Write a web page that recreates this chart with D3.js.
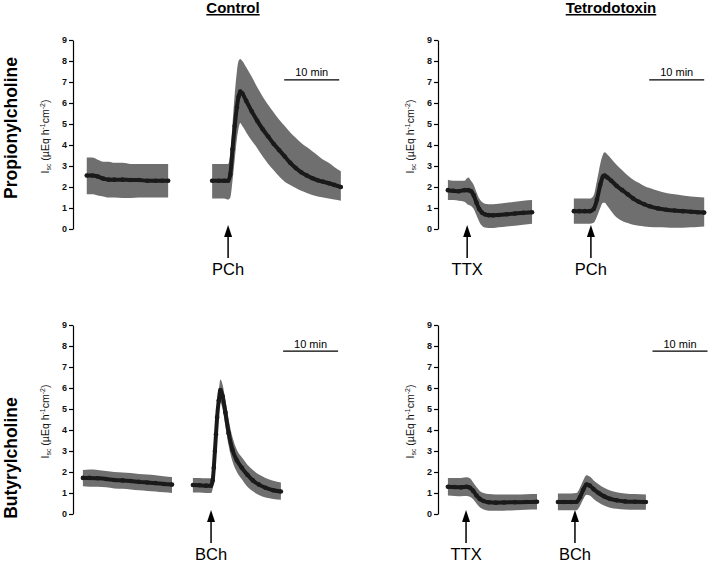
<!DOCTYPE html>
<html>
<head>
<meta charset="utf-8">
<script src="https://cdn.jsdelivr.net/npm/d3@7"></script>
<style>
  body { margin: 0; background: #fff; }
  svg { display: block; font-family: Arial, "Liberation Sans", sans-serif; }
</style>
</head>
<body>
<svg id="chart" width="709" height="562"></svg>
<script>
// rows: [minutes, mean, lower, upper]  (Isc, µEq h-1 cm-2)
const pchControlBaseline = [
  [2.5, 2.55, 1.65, 3.4], [3.5, 2.55, 1.65, 3.4], [4.5, 2.5, 1.6, 3.3], [5.5, 2.4, 1.55, 3.2],
  [6.5, 2.35, 1.5, 3.2], [7.5, 2.35, 1.5, 3.15], [9, 2.35, 1.48, 3.15], [10.5, 2.33, 1.48, 3.1],
  [12, 2.33, 1.5, 3.1], [13.5, 2.3, 1.5, 3.1], [15, 2.3, 1.5, 3.1], [16.2, 2.3, 1.5, 3.1], [17.3, 2.3, 1.5, 3.1]
];
const pchControlResponse = [
  [25.3, 2.3, 1.45, 3.1], [26.5, 2.3, 1.45, 3.1], [27.5, 2.3, 1.45, 3.1], [28.2, 2.3, 1.4, 3.1],
  [28.6, 2.6, 1.5, 3.6], [29.0, 3.8, 2.3, 5.0], [29.4, 4.9, 3.3, 6.4], [29.8, 5.8, 4.3, 7.5],
  [30.1, 6.3, 4.8, 8.0], [30.4, 6.55, 5.05, 8.1], [30.8, 6.45, 4.9, 8.0], [31.5, 6.1, 4.6, 7.7],
  [32.5, 5.6, 4.2, 7.25], [33.5, 5.15, 3.85, 6.75], [34.5, 4.75, 3.45, 6.3], [35.5, 4.4, 3.1, 5.9],
  [36.5, 4.05, 2.8, 5.55], [37.5, 3.75, 2.5, 5.2], [38.5, 3.45, 2.25, 4.9], [39.5, 3.15, 2.1, 4.6],
  [40.5, 2.9, 1.95, 4.35], [41.5, 2.7, 1.82, 4.1], [42.5, 2.55, 1.72, 3.9], [43.5, 2.42, 1.62, 3.7],
  [44.5, 2.32, 1.55, 3.5], [45.5, 2.25, 1.5, 3.3], [46.5, 2.18, 1.45, 3.15], [47.5, 2.1, 1.4, 2.95],
  [48.7, 2.0, 1.35, 2.75]
];
const pchTtxBaseline = [
  [1.8, 1.85, 1.38, 2.35], [2.8, 1.82, 1.38, 2.3], [3.8, 1.8, 1.35, 2.3], [4.8, 1.85, 1.3, 2.3],
  [5.5, 1.85, 1.15, 2.45], [6.0, 1.8, 1.1, 2.3], [6.5, 1.6, 0.95, 2.1], [7.0, 1.25, 0.65, 1.75],
  [7.5, 0.95, 0.35, 1.45], [8.0, 0.78, 0.15, 1.28], [8.5, 0.7, 0.07, 1.2], [9.2, 0.66, 0.05, 1.18],
  [10, 0.65, 0.05, 1.18], [11, 0.67, 0.08, 1.2], [12.5, 0.7, 0.12, 1.25], [14, 0.74, 0.15, 1.3],
  [15.5, 0.77, 0.2, 1.35], [17.1, 0.8, 0.25, 1.38]
];
const pchTtxResponse = [
  [24.7, 0.85, 0.25, 1.45], [25.7, 0.85, 0.25, 1.45], [26.7, 0.85, 0.25, 1.45], [27.6, 0.85, 0.25, 1.45],
  [28.3, 0.95, 0.3, 1.6], [28.9, 1.4, 0.6, 2.3], [29.5, 2.1, 1.0, 3.1], [30.0, 2.5, 1.25, 3.55],
  [30.3, 2.55, 1.25, 3.65], [30.8, 2.45, 1.1, 3.55], [31.5, 2.3, 0.85, 3.35], [32.5, 2.05, 0.55, 3.05],
  [33.5, 1.85, 0.38, 2.8], [34.5, 1.65, 0.28, 2.55], [35.5, 1.45, 0.2, 2.35], [36.5, 1.3, 0.15, 2.2],
  [37.5, 1.18, 0.12, 2.05], [38.5, 1.08, 0.1, 1.95], [40, 0.98, 0.08, 1.82], [41.5, 0.92, 0.07, 1.72],
  [43, 0.88, 0.06, 1.65], [44.5, 0.85, 0.06, 1.6], [46, 0.82, 0.08, 1.55], [47.2, 0.8, 0.1, 1.52],
  [48.4, 0.78, 0.12, 1.5]
];
const bchControlBaseline = [
  [1.8, 1.72, 1.32, 2.1], [3, 1.72, 1.3, 2.12], [4.5, 1.7, 1.3, 2.1], [6, 1.67, 1.27, 2.05],
  [7.5, 1.62, 1.22, 2.0], [9, 1.6, 1.2, 1.98], [10.5, 1.57, 1.17, 1.95], [12, 1.53, 1.13, 1.9],
  [13.5, 1.5, 1.1, 1.88], [15, 1.47, 1.07, 1.85], [16.5, 1.43, 1.03, 1.8], [18, 1.4, 1.0, 1.76]
];
const bchControlResponse = [
  [21.8, 1.38, 1.02, 1.72], [23, 1.37, 1.02, 1.72], [24.2, 1.35, 1.0, 1.7], [25.1, 1.35, 1.0, 1.7],
  [25.4, 1.6, 1.2, 1.9], [25.6, 2.2, 1.8, 2.5], [25.8, 3.0, 2.6, 3.3], [26.0, 3.8, 3.4, 4.2],
  [26.2, 4.6, 4.2, 5.0], [26.5, 5.4, 5.0, 5.8], [26.8, 5.9, 5.3, 6.4], [27.2, 5.6, 5.0, 6.15],
  [27.7, 4.85, 4.2, 5.45], [28.3, 3.85, 3.25, 4.5], [29.0, 3.05, 2.5, 3.65], [29.8, 2.55, 2.0, 3.05],
  [30.7, 2.2, 1.65, 2.7], [31.7, 1.87, 1.3, 2.35], [32.7, 1.6, 1.08, 2.1], [33.8, 1.4, 0.9, 1.88],
  [35, 1.25, 0.78, 1.72], [36.4, 1.13, 0.72, 1.58], [37.8, 1.07, 0.68, 1.5]
];
const bchTtxBaseline = [
  [1.8, 1.3, 0.88, 1.72], [3, 1.28, 0.86, 1.72], [4.2, 1.27, 0.85, 1.72], [5.2, 1.3, 0.86, 1.75],
  [5.8, 1.25, 0.82, 1.7], [6.4, 1.1, 0.7, 1.5], [7.0, 0.88, 0.5, 1.28], [7.6, 0.72, 0.32, 1.1],
  [8.3, 0.62, 0.22, 1.0], [9.2, 0.56, 0.16, 0.95], [10.5, 0.54, 0.15, 0.93], [12, 0.55, 0.16, 0.93],
  [14, 0.56, 0.18, 0.93], [16, 0.57, 0.2, 0.94], [18, 0.58, 0.21, 0.95]
];
const bchTtxResponse = [
  [21.8, 0.57, 0.18, 0.98], [23, 0.57, 0.18, 0.98], [24.2, 0.57, 0.18, 0.98], [25.2, 0.58, 0.18, 1.0],
  [25.8, 0.8, 0.38, 1.25], [26.4, 1.15, 0.7, 1.6], [27.0, 1.4, 0.92, 1.85], [27.6, 1.35, 0.88, 1.78],
  [28.3, 1.18, 0.72, 1.6], [29.2, 1.0, 0.55, 1.42], [30.2, 0.84, 0.4, 1.25], [31.3, 0.72, 0.3, 1.12],
  [32.5, 0.65, 0.25, 1.04], [34, 0.6, 0.22, 0.98], [35.8, 0.58, 0.2, 0.95], [37.8, 0.57, 0.2, 0.93]
];

// drug additions, minutes
const pchControlEvents = [["PCh", 28.2]];
const pchTtxEvents = [["TTX", 5.3], ["PCh", 27.8]];
const bchControlEvents = [["BCh", 25.1]];
const bchTtxEvents = [["TTX", 5.1], ["BCh", 24.9]];

const yTicks = [0, 1, 2, 3, 4, 5, 6, 7, 8, 9];
const columnTitles = ["Control", "Tetrodotoxin"];
const rowTitles = ["Propionylcholine", "Butyrylcholine"];
const scaleBarLabel = "10 min";

const settings = {
  minutes: 50,
  pxPerMinute: 5.5,
  band: "#6f6f6f",
  trace: "#1a1a1a",
  dotRadius: 2.3,
  traceWidth: 4,
};

const panels = [
  { left: 73, top: 40, bottom: 229, segments: [pchControlBaseline, pchControlResponse], events: pchControlEvents, bar: [38.4, 48.4], barY: 7.1 },
  { left: 438, top: 40, bottom: 229, segments: [pchTtxBaseline, pchTtxResponse], events: pchTtxEvents, bar: [38.4, 48.4], barY: 7.1 },
  { left: 73, top: 325, bottom: 514, segments: [bchControlBaseline, bchControlResponse], events: bchControlEvents, bar: [38.2, 48.2], barY: 7.76 },
  { left: 438, top: 325, bottom: 514, segments: [bchTtxBaseline, bchTtxResponse], events: bchTtxEvents, bar: [39, 49], barY: 7.76 },
];

const svg = d3.select("#chart");

function drawPanel(p) {
  const x = d3.scaleLinear()
    .domain([0, settings.minutes])
    .range([p.left, p.left + settings.minutes * settings.pxPerMinute]);
  const y = d3.scaleLinear().domain([0, 9]).range([p.bottom, p.top]);

  const g = svg.append("g");

  const area = d3.area()
    .x(d => x(d[0]))
    .y0(d => y(d[2]))
    .y1(d => y(d[3]))
    .curve(d3.curveMonotoneX);

  const line = d3.line()
    .x(d => x(d[0]))
    .y(d => y(d[1]))
    .curve(d3.curveMonotoneX);

  g.selectAll("path.band")
    .data(p.segments)
    .join("path")
    .attr("class", "band")
    .attr("d", area)
    .attr("fill", settings.band);

  g.selectAll("path.trace")
    .data(p.segments)
    .join("path")
    .attr("class", "trace")
    .attr("d", line)
    .attr("fill", "none")
    .attr("stroke", settings.trace)
    .attr("stroke-width", settings.traceWidth);

  g.selectAll("circle")
    .data(p.segments.flat())
    .join("circle")
    .attr("cx", d => x(d[0]))
    .attr("cy", d => y(d[1]))
    .attr("r", settings.dotRadius)
    .attr("fill", settings.trace);

  // y axis
  const axis = g.append("g")
    .attr("transform", `translate(${p.left},0)`)
    .call(d3.axisLeft(y).tickValues(yTicks).tickSize(4).tickSizeOuter(0).tickPadding(2));
  axis.select(".domain").attr("stroke", "#000").attr("stroke-width", 1.2);
  axis.selectAll(".tick line").attr("stroke", "#000").attr("stroke-width", 1.2);
  axis.selectAll(".tick text")
    .attr("font-size", 9)
    .attr("font-weight", "bold")
    .attr("font-family", "Arial, 'Liberation Sans', sans-serif")
    .attr("fill", "#111");

  // axis title
  const ty = g.append("text")
    .attr("transform", `translate(${p.left - 24},${(p.top + p.bottom) / 2 + 2}) rotate(-90)`)
    .attr("text-anchor", "middle")
    .attr("font-size", 10.5)
    .attr("fill", "#111");
  ty.append("tspan").text("I");
  ty.append("tspan").attr("font-size", 7).attr("dy", 2).text("sc");
  ty.append("tspan").attr("dy", -2).text(" (\u00b5Eq h");
  ty.append("tspan").attr("font-size", 7).attr("dy", -4).text("-1");
  ty.append("tspan").attr("dy", 4).text("cm");
  ty.append("tspan").attr("font-size", 7).attr("dy", -4).text("-2");
  ty.append("tspan").attr("dy", 4).text(")");

  // 10 min scale bar
  g.append("line")
    .attr("x1", x(p.bar[0])).attr("x2", x(p.bar[1]))
    .attr("y1", y(p.barY)).attr("y2", y(p.barY))
    .attr("stroke", "#000").attr("stroke-width", 1.3);
  g.append("text")
    .attr("x", (x(p.bar[0]) + x(p.bar[1])) / 2)
    .attr("y", y(p.barY) - 3.5)
    .attr("text-anchor", "middle")
    .attr("font-size", 11)
    .text(scaleBarLabel);

  // arrows for drug additions
  const tip = p.bottom - 4;
  const ev = g.selectAll("g.event")
    .data(p.events)
    .join("g")
    .attr("class", "event")
    .attr("transform", d => `translate(${x(d[1])},${tip})`);
  ev.append("path")
    .attr("d", "M0,0 L4,12 L-4,12 Z")
    .attr("fill", "#000");
  ev.append("line")
    .attr("y1", 10).attr("y2", 33)
    .attr("stroke", "#000").attr("stroke-width", 1.5);
  ev.append("text")
    .attr("y", 50)
    .attr("text-anchor", "middle")
    .attr("font-size", 16.5)
    .text(d => d[0]);
}

panels.forEach(drawPanel);

// column headings
svg.selectAll("text.col")
  .data(columnTitles)
  .join("text")
  .attr("class", "col")
  .attr("x", (d, i) => [233, 611][i])
  .attr("y", 13)
  .attr("text-anchor", "middle")
  .attr("font-size", 15)
  .attr("font-weight", "bold")
  .attr("text-decoration", "underline")
  .text(d => d);

// row headings
svg.selectAll("text.row")
  .data(rowTitles)
  .join("text")
  .attr("class", "row")
  .attr("transform", (d, i) => `translate(17,${[128, 458][i]}) rotate(-90)`)
  .attr("text-anchor", "middle")
  .attr("font-size", 17.5)
  .attr("font-weight", "bold")
  .text(d => d);
</script>
</body>
</html>
